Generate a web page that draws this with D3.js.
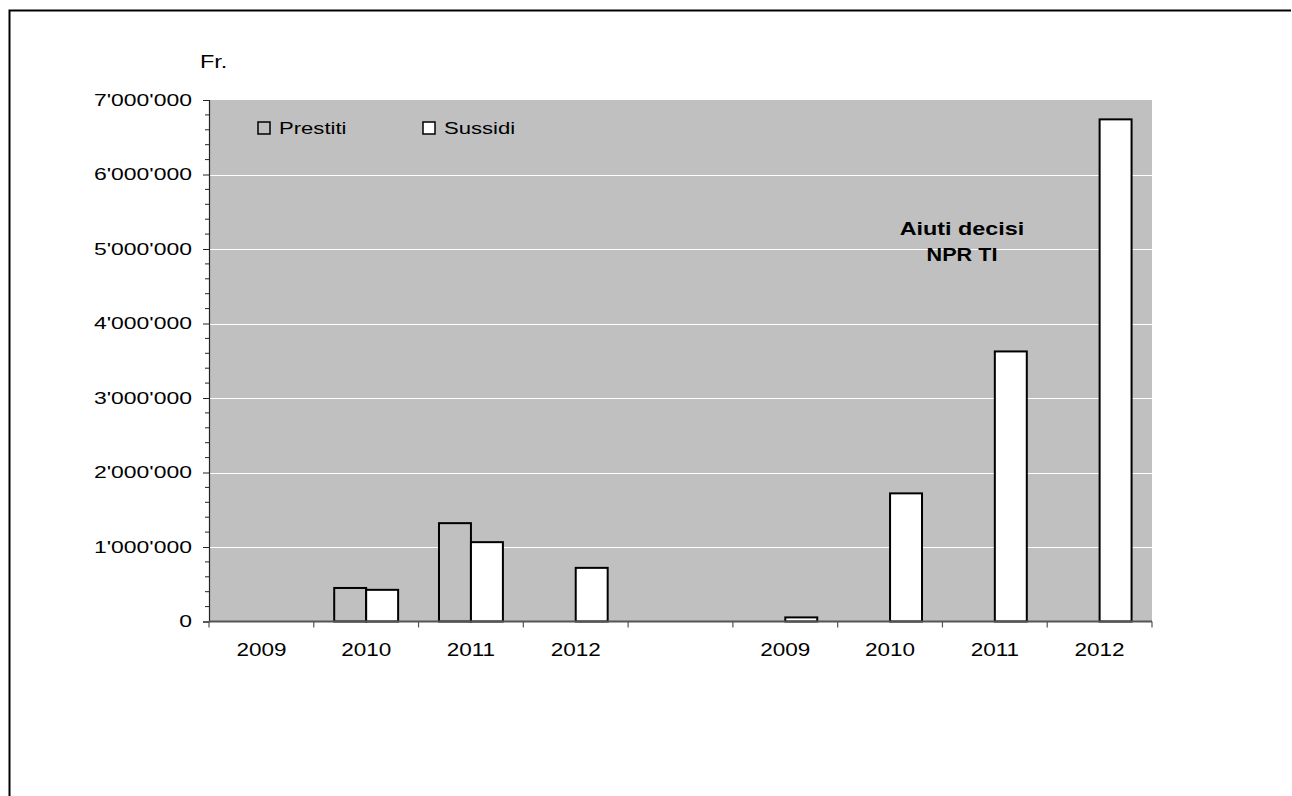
<!DOCTYPE html>
<html><head><meta charset="utf-8">
<script src="https://cdn.jsdelivr.net/npm/d3@7/dist/d3.min.js"></script>
<style>
html,body{margin:0;padding:0;background:#fff;}
svg{display:block;font-family:"Liberation Sans",Arial,sans-serif;}
</style></head>
<body>
<svg id="c" width="1292" height="796"></svg>
<script>
const categories = ["2009","2010","2011","2012","","2009","2010","2011","2012"];
const prestiti   = [null, 450000, 1320000, null, null, null, null, null, null];
const sussidi    = [null, 425000, 1065000, 720000, null, 55000, 1720000, 3625000, 6740000];
const yTicks     = [0,1000000,2000000,3000000,4000000,5000000,6000000,7000000];
const seriesNames = ["Prestiti","Sussidi"];
const annotation = ["Aiuti decisi","NPR TI"];
const unitLabel = "Fr.";

const svg = d3.select("#c");
const bg = "#c0c0c0";
const M = {left:209, right:1152, top:100, bottom:621.5};

// helper: horizontally stretched text
function stext(g, x, y, str, size, sx, anchor, weight){
  return g.append("text").attr("transform",`translate(${x},${y}) scale(${sx},1)`)
    .attr("font-size",size).attr("text-anchor",anchor||"start")
    .attr("font-weight",weight||"normal").attr("fill","#000").text(str);
}

// outer frame
svg.append("path").attr("d","M9.5,800 V10.5 H1291").attr("fill","none").attr("stroke","#000").attr("stroke-width",2);

const x = d3.scaleBand().domain(d3.range(categories.length)).range([M.left, M.right]).paddingInner(0).paddingOuter(0);
const y = d3.scaleLinear().domain([0,7000000]).range([M.bottom, M.top]);
const bw = x.bandwidth()*0.305;

svg.append("rect").attr("x",M.left).attr("y",M.top).attr("width",M.right-M.left).attr("height",M.bottom-M.top).attr("fill",bg);

// gridlines
svg.append("g").selectAll("line").data(yTicks.filter(d=>d>0 && d<7000000)).join("line")
  .attr("x1",M.left).attr("x2",M.right).attr("y1",d=>Math.round(y(d))+0.5).attr("y2",d=>Math.round(y(d))+0.5)
  .attr("stroke","#fff").attr("stroke-width",1);

const fmt = d3.formatLocale({thousands:"'",grouping:[3],decimal:".",currency:["",""]}).format(",d");

// y axis
const yAxis = d3.axisLeft(y).tickValues(yTicks).tickFormat(fmt).tickSize(6).tickPadding(11);
const gy = svg.append("g").attr("transform",`translate(${M.left},0)`).call(yAxis);
gy.select(".domain").attr("stroke","#222").attr("stroke-width",1.2);
gy.selectAll(".tick line").attr("stroke","#222");
const sy = 1.35;
gy.selectAll(".tick text").attr("font-size",17).attr("fill","#000")
  .attr("font-family","Liberation Sans, Arial, sans-serif")
  .attr("x",-17/sy).attr("transform",`scale(${sy},1)`);
const minor = d3.range(0,7000001,200000).filter(d=>d%1000000!==0);
svg.append("g").selectAll("line").data(minor).join("line")
  .attr("x1",M.left-4).attr("x2",M.left).attr("y1",d=>y(d)).attr("y2",d=>y(d)).attr("stroke","#222");

// bars
const pData = prestiti.map((v,i)=>({i,v})).filter(d=>d.v!=null);
const sData = sussidi.map((v,i)=>({i,v})).filter(d=>d.v!=null);
const cx = i => x(i)+x.bandwidth()/2;
svg.append("g").selectAll("rect").data(pData).join("rect")
  .attr("x",d=>cx(d.i)-bw).attr("width",bw).attr("y",d=>y(d.v)).attr("height",d=>y(0)-y(d.v))
  .attr("fill",bg).attr("stroke","#000").attr("stroke-width",2);
svg.append("g").selectAll("rect").data(sData).join("rect")
  .attr("x",d=>cx(d.i)).attr("width",bw).attr("y",d=>y(d.v)).attr("height",d=>y(0)-y(d.v))
  .attr("fill","#fff").attr("stroke","#000").attr("stroke-width",2);

// x axis
const bounds = d3.range(categories.length+1).map(i=> i<categories.length ? x(i) : M.right);
const gx = svg.append("g");
gx.append("line").attr("x1",M.left).attr("x2",M.right).attr("y1",M.bottom).attr("y2",M.bottom).attr("stroke","#555").attr("stroke-width",1.8);
gx.selectAll("line.t").data(bounds).join("line").attr("class","t")
  .attr("x1",d=>d).attr("x2",d=>d).attr("y1",M.bottom).attr("y2",M.bottom+6).attr("stroke","#555").attr("stroke-width",1.2);
categories.forEach((c,i)=>{ if(c) stext(gx, cx(i), 656, c, 18, 1.25, "middle"); });

// unit label
stext(svg, 200, 68, unitLabel, 18, 1.3, "start");

// legend
const lg = svg.append("g");
const lx = [258, 423];
seriesNames.forEach((n,k)=>{
  lg.append("rect").attr("x",lx[k]).attr("y",122).attr("width",12).attr("height",12)
    .attr("fill",k===0?bg:"#fff").attr("stroke","#000").attr("stroke-width",1.5);
  stext(lg, lx[k]+21, 133.5, n, 17, 1.3, "start");
});

// annotation
const ag = svg.append("g");
annotation.forEach((a,i)=> stext(ag, 962, 235+i*26, a, 18, i===0?1.3:1.2, "middle", "bold"));
</script>
</body></html>
